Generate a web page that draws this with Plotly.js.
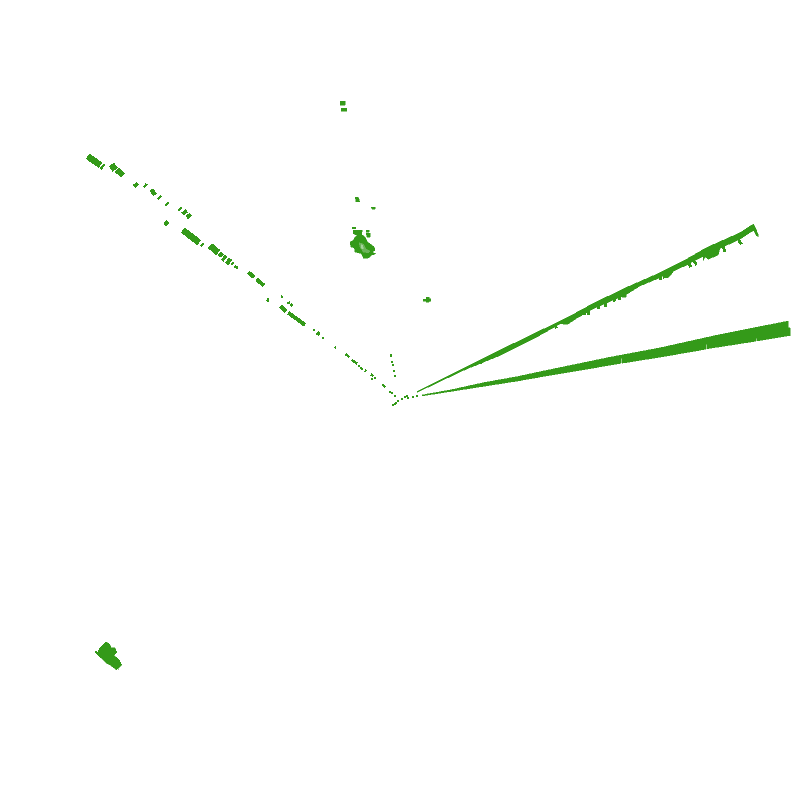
<!DOCTYPE html>
<html>
<head>
<meta charset="utf-8">
<script src="https://cdn.plot.ly/plotly-3.0.1.min.js"></script>
<style>
  html, body { margin: 0; padding: 0; background: #fff; }
  #chart { width: 800px; height: 800px; }
  .scatterlayer path { shape-rendering: crispEdges; }
</style>
</head>
<body>
<div id="chart"></div>
<script>
"use strict";

// top-down point returns (null = gap between pieces)

// long lower wedge
const lowerWedgeX = [421.7, 450, 483.3, 516.7, 543.3, 570, 610, 660, 720, 788.3, 788.3, 790, 790, 757, 757, 756, 756, 707.2, 707.2, 706.2, 706.2, 660, 622.2, 622.2, 621.4, 621.4, 585, 543.3, 516.7, 483.3, 450, 421.7];
const lowerWedgeY = [395, 390, 382.7, 376.7, 371, 365.5, 357.2, 347.8, 334.5, 321, 327.5, 327.5, 335.5, 341, 338, 338, 341.2, 348.8, 344, 344, 349.2, 357.2, 363.2, 358, 358, 363.3, 369.8, 376.5, 381.2, 386.5, 392, 396];

// upper wedge and the chunks hanging under it
const upperWedgeX = [416.7, 440, 466.7, 500, 533.3, 570, 593.3, 626.7, 660, 686.7, 706.7, 740, 753.3, 755, 758.7, 756.7, 754, 750, 740, 706.7, 686.7, 660, 640, 626.7, 593.3, 570, 560, 533.3, 500, 466.7, 440, 416.7];
const upperWedgeY = [391.7, 380, 366.7, 350, 334, 316, 303.3, 287.3, 272.7, 259, 247.5, 232.7, 224, 226.7, 236, 236, 230.7, 232.5, 239.3, 254.3, 265, 277.7, 286, 294.3, 308.7, 322.2, 324, 339, 355.5, 369, 381.5, 392.7];

const chunkX = [703.3, 720, 718.3, 708.3, 705, 703.3, null, 666, 673.3, 668.3, 666, null, 621, 626, 626, 622, 621, null, 563.3, 575, 575, 568.3, 563.3];
const chunkY = [251.7, 248, 255, 259.3, 256.7, 261, null, 271.7, 272, 277.7, 277.7, null, 291.7, 290, 297.3, 297.3, 291.7, null, 320, 315, 319.3, 324, 324];

const toothX = [738.3, 741.7, null, 723.3, 725, null, 693.3, 696.7, null, 688.3, 690.7, null, 660, 660.7, null, 664, 665, null, 613.3, 615, null, 618.3, 620, null, 605, 606, null, 598.3, 599, null, 588.3, 589, null, 584, 585, null, 555, 556.7, null, 543.3, 543.6, null, 538.3, 538.6, null, 531.7, 532.3, null, 523.3, 523.6, null, 513.3, 513.6, null, 505, 505.5, null, 495, 495.2, null, 488.3, 488.6, null, 480, 480.5, null, 474, 474.3];
const toothY = [240, 244.3, null, 246.7, 251.7, null, 260, 265, null, 261.7, 267.3, null, 275, 280, null, 275, 278.3, null, 298.3, 301.7, null, 296, 300, null, 303.3, 306.7, null, 305, 309, null, 310, 315, null, 311.7, 315, null, 325, 328.3, null, 330, 333, null, 332, 335.7, null, 335, 339.3, null, 339.3, 343.3, null, 344, 348.3, null, 348.3, 351.7, null, 353.3, 356.7, null, 356.7, 359.3, null, 361.7, 364, null, 364, 366];

// diagonal line of returns going up and left, three stroke weights
const rayHeavyX = [87.5, 100.5, null, 110.7, 116, null, 151.5, 155, null, 182.7, 199.3, null, 210, 218.3, null, 222.7, 225.3, null, 227, 230.3];
const rayHeavyY = [156.2, 165.2, null, 169, 165.3, null, 193.5, 191, null, 230, 242.7, null, 245.7, 252.7, null, 257.3, 259.3, null, 260, 262.7];

const rayMediumX = [115.7, 120.7, null, 119.7, 123.3, null, 134, 137.7, null, 182.7, 186.7, null, 186.7, 190.7, null, 164.7, 167.7, null, 218.7, 222.7, null, 235.7, 237, null, 248.3, 254.3, null, 256.7, 264, null, 280.7, 286, null, 288.3, 305, null, 317, 319.6];
const rayMediumY = [173.3, 169.3, null, 176, 172, null, 186.7, 183.3, null, 214, 210.7, null, 217.7, 214.3, null, 225.3, 221.3, null, 256, 253.3, null, 268.3, 266, null, 272.3, 277.3, null, 279.3, 285.7, null, 306, 311.7, null, 312.7, 325, null, 332.5, 334.5];

const rayThinX = [95, 101.7, null, 100.7, 104.3, null, 144, 146.7, null, 157.7, 161.3, null, 165.3, 168.7, null, 178.3, 181.7, null, 200.7, 203.3, null, 231.7, 233.3, null, 267, 268.7, null, 290.7, 292.7, null, 313, 315, null, 321.7, 323.7, null, 334.7, 336, null, 281.3, 282.7, null, 287.3, 290, null, 345.3, 349.3, null, 351.7, 357.3, null, 364.7, 366, null, 370.7, 373.3, null, 382.3, 385.3];
const rayThinY = [651.3, 658, null, 169, 164.3, null, 187.3, 183.7, null, 199.3, 195.7, null, 205.7, 202.3, null, 210.7, 207.7, null, 246.3, 243.3, null, 265, 262.3, null, 301.7, 299.3, null, 306, 304, null, 330, 330, null, 338, 338, null, 347, 348, null, 297.3, 296, null, 303.3, 302.3, null, 354, 357, null, 360, 363.7, null, 370.3, 371.3, null, 374.3, 376.3, null, 384.3, 387.3];

// single pixels near the origin
const dotX = [268.3, 359.3, 361.3, 362.3, 375.3, 372.3, 390, 392.3, 395, 393.3, 394.7, 396.3, 398.3, 402.3, 405.3, 407.3, 408, 413, 417, 391.3, 391.3, 392.3, 393.3, 394.3, 395.3];
const dotY = [299.3, 366, 368, 368.7, 378.3, 379.3, 391.7, 393.3, 395.7, 405.3, 404, 403.3, 401.3, 399.3, 397.3, 396.3, 398.3, 396.7, 396, 354.7, 356.3, 362.3, 365.3, 371.3, 376];

// isolated clusters
const clusterX = [340, 345, 345, 340, 340, null, 341, 346.7, 346.7, 341, 341, null, 355, 358, 360, 360, 356, 355, null, 371, 375, 375, 372, 371, null, 423, 426, 426, 429, 429, 430.5, 430.5, 429, 429, 426, 426, 423, 423, null, 352.3, 355.7, 355.7, 352.3, 352.3, null, 366, 369, 369, 366, 366, null, 366, 370, 370, 367, 366];
const clusterY = [101, 101, 105, 105, 101, null, 108, 108, 111, 111, 108, null, 197, 197, 201.7, 201.7, 201.7, 197, null, 207, 207, 209, 209, 207, null, 299, 299, 297, 297, 298.5, 298.5, 301, 301, 302, 302, 301, 301, 299, null, 227, 227, 228.7, 228.7, 227, null, 230.3, 230.3, 232, 232, 230.3, null, 233, 233, 237.3, 237.3, 233];

const blobX = [353.3, 362.3, 361.7, 365, 367.7, 374.3, 375, 371.7, 375.7, 371.7, 368.3, 363.3, 361.7, 355, 354.3, 351, 350, 353.3, 355, 357.3, 353.3, 353.3];
const blobY = [230.3, 230.3, 234.7, 237, 242, 247, 250.3, 252, 253.7, 255.3, 258, 258, 253.7, 252, 248, 247, 242, 240.3, 237, 235.3, 233.7, 230.3];

const blobMidX = [359, 363.3, 365.7, 370, 368.3, 363.3, 360, 359];
const blobMidY = [242.7, 243.7, 248.7, 251.3, 253, 252, 247, 242.7];

const blobCoreX = [361, 362.7, 363.3, 361, 361];
const blobCoreY = [244.7, 245.3, 249.3, 248, 244.7];

// patch bottom left
const patchX = [105.7, 110, 111, 115, 117, 114, 119, 121.5, 116.7, 110, 106, 103, 100, 97.5, 100, 105.7];
const patchY = [641.5, 644.5, 647.5, 647.5, 652, 655.3, 659.5, 664.5, 670, 665, 663, 659.5, 657, 652, 647.5, 641.5];

const GREEN = "#349a19";

function filled(x, y, color) {
  return { x, y, mode: "lines", fill: "toself", fillcolor: color, line: { color, width: 0.5 }, hoverinfo: "skip", showlegend: false };
}

function stroked(x, y, width) {
  return { x, y, mode: "lines", connectgaps: false, line: { color: GREEN, width }, hoverinfo: "skip", showlegend: false };
}

const data = [
  filled(lowerWedgeX, lowerWedgeY, GREEN),
  filled(upperWedgeX, upperWedgeY, GREEN),
  filled(chunkX, chunkY, GREEN),
  stroked(toothX, toothY, 3),
  stroked(rayHeavyX, rayHeavyY, 6.5),
  stroked(rayMediumX, rayMediumY, 4),
  stroked(rayThinX, rayThinY, 2.4),
  { x: dotX, y: dotY, mode: "markers", marker: { color: GREEN, size: 2, symbol: "square" }, hoverinfo: "skip", showlegend: false },
  filled(clusterX, clusterY, GREEN),
  filled(blobX, blobY, GREEN),
  filled(blobMidX, blobMidY, "#6db35a"),
  filled(blobCoreX, blobCoreY, "#a5d29a"),
  filled(patchX, patchY, GREEN),
];

const layout = {
  width: 800,
  height: 800,
  margin: { l: 0, r: 0, t: 0, b: 0 },
  paper_bgcolor: "#fff",
  plot_bgcolor: "#fff",
  xaxis: { range: [0, 800], visible: false, fixedrange: true },
  yaxis: { range: [800, 0], visible: false, fixedrange: true },
  showlegend: false,
};

Plotly.newPlot("chart", data, layout, { displayModeBar: false, staticPlot: true });
</script>
</body>
</html>
